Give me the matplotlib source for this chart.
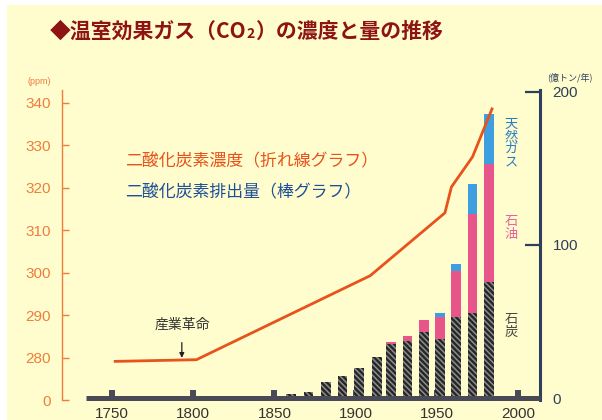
import matplotlib
matplotlib.use("Agg")
import matplotlib.pyplot as plt
from matplotlib.patches import Rectangle
from matplotlib.offsetbox import TextArea, HPacker, AnchoredOffsetbox

plt.rcParams['hatch.linewidth'] = 1.7

W, H = 602, 420
CJK = ['Noto Sans CJK JP', 'DejaVu Sans']
NUM = ['Liberation Sans', 'DejaVu Sans']

# CO2 concentration (ppm), line
ppm_years = [1752, 1802, 1909, 1955, 1959, 1972, 1984]
ppm_values = [279.1, 279.5, 299.3, 314.1, 320.2, 327.3, 338.6]

# CO2 emissions by fuel (億トン/年), stacked bars
emit_years = [1860, 1871, 1882, 1892, 1902, 1913, 1922, 1932, 1942, 1952, 1962, 1972, 1982]
coal = [2.6, 3.9, 10.4, 14.4, 19.6, 26.8, 35.2, 37.2, 43.1, 38.5, 52.9, 55.5, 75.7]
oil = [0, 0, 0, 0, 0, 0, 1.4, 3.3, 7.8, 14.4, 30.0, 64.6, 77.0]
gas = [0, 0, 0, 0, 0, 0, 0, 0, 0, 2.6, 4.6, 19.6, 32.7]

year_ticks = [1750, 1800, 1850, 1900, 1950, 2000]
ppm_ticks = [270, 280, 290, 300, 310, 320, 330, 340]
ppm_tick_labels = ['0', '280', '290', '300', '310', '320', '330', '340']
emit_ticks = [0, 100, 200]

BG = '#fffdcd'
ORANGE = '#e8521c'
ORANGE_AX = '#ee7d3e'
NAVY = '#2e3f5e'
PINK = '#e8558a'
BLUE = '#3d9fe0'
DARK = '#4a4a56'


def fx(x):
    return x / W


def fy(y):
    return 1 - y / H


fig = plt.figure(figsize=(W / 100, H / 100), dpi=100, facecolor='white')
fig.patches.append(Rectangle((fx(7), 0), 1 - fx(7), fy(5), transform=fig.transFigure,
                             facecolor=BG, edgecolor='none', zorder=-10))

# plot area in pixels
L, R, T, B = 62, 540, 90, 400
ax = fig.add_axes([fx(L), fy(B), (R - L) / W, (B - T) / H])
ax.set_facecolor('none')
ax2 = ax.twinx()
ax2.set_facecolor('none')

# x mapping: 1750 -> 112 px, 2000 -> 518 px
pxy = (518 - 112) / 250
ax.set_xlim(1750 + (L - 112) / pxy, 1750 + (R - 112) / pxy)

# emission axis (right): 0 at 398 px, 200 at 92 px
ppu = (398 - 92) / 200
ax.set_ylim(-(B - 398) / ppu, (398 - T) / ppu)
# concentration axis (left): 280 at 358 px, 340 at 103 px
ppp = (358 - 103) / 60
ax2.set_ylim(280 - (B - 358) / ppp, 280 + (358 - T) / ppp)

# stacked bars
bw = 6.0
ax.bar(emit_years, coal, width=bw, color='#8c8c8c', edgecolor='#262626', linewidth=0,
       hatch='\\\\\\\\\\\\', zorder=2)
base2 = [c for c in coal]
ax.bar(emit_years, oil, bottom=base2, width=bw, color=PINK, linewidth=0, zorder=2)
base3 = [c + o for c, o in zip(coal, oil)]
ax.bar(emit_years, gas, bottom=base3, width=bw, color=BLUE, linewidth=0, zorder=2)

# base line of the time axis
ax.plot([1734, ax.get_xlim()[1]], [-0.3, -0.3], color=DARK, lw=3.6,
        solid_capstyle='butt', zorder=3, clip_on=False)

# concentration line
ax2.plot(ppm_years, ppm_values, color=ORANGE, lw=2.0, zorder=5,
         solid_joinstyle='miter')

# spines
for s in ['top', 'left', 'bottom']:
    ax.spines[s].set_visible(False)
ax.spines['right'].set_color(NAVY)
ax.spines['right'].set_linewidth(2.2)
for s in ['top', 'right', 'bottom']:
    ax2.spines[s].set_visible(False)
ax2.spines['left'].set_visible(True)
ax2.spines['left'].set_color(ORANGE_AX)
ax2.spines['left'].set_linewidth(1.0)

# x ticks
ax.set_xticks(year_ticks)
ax.set_xticklabels([str(y) for y in year_ticks], fontfamily=NUM, fontsize=11, color='#333333')
ax.tick_params(axis='x', direction='in', length=7.5, width=4.3, color=DARK, pad=5)

# right axis
ax.yaxis.tick_right()
ax.set_yticks(emit_ticks)
ax.set_yticklabels([str(v) for v in emit_ticks], fontfamily=NUM, fontsize=11, color=NAVY)
ax.tick_params(axis='y', direction='in', length=11, width=1.6, color=NAVY, pad=9)

# left axis
ax2.yaxis.tick_left()
ax2.set_yticks(ppm_ticks)
ax2.set_yticklabels(ppm_tick_labels, fontfamily=NUM, fontsize=11, color=ORANGE_AX)
ax2.tick_params(axis='y', direction='in', length=5, width=1.0, color=ORANGE_AX, pad=8)

# unit labels
fig.text(fx(39), fy(81), '(ppm)', ha='center', va='center', fontsize=6.5,
         color=ORANGE_AX, fontfamily=NUM)
fig.text(fx(570), fy(77), '(億トン/年)', ha='center', va='center', fontsize=6.5,
         color=NAVY, fontfamily=CJK)

# legend texts
fig.text(fx(125), fy(161), '二酸化炭素濃度（折れ線グラフ）', ha='left', va='center',
         fontsize=12.2, color=ORANGE, fontfamily=CJK)
fig.text(fx(125), fy(192), '二酸化炭素排出量（棒グラフ）', ha='left', va='center',
         fontsize=12.2, color='#1f4f9a', fontfamily=CJK)

# fuel labels (vertical)
for label, color, yc in [('天然ガス', '#2a7cc8', 143), ('石油', '#e8609a', 228), ('石炭', '#444444', 326)]:
    fig.text(fx(511), fy(yc), '\n'.join(label), ha='center', va='center',
             fontsize=9.5, color=color, fontfamily=CJK, linespacing=0.95)

# industrial revolution marker
ax2.annotate('産業革命', xy=(1793, 279.6), xytext=(1793, 287.8),
             ha='center', va='center', fontsize=10, color='#333333', fontfamily=CJK,
             arrowprops=dict(arrowstyle='-|>', color='#222222', lw=0.9,
                             mutation_scale=7, shrinkA=6, shrinkB=1))

# title with small "2"
tp = dict(fontsize=15, fontweight='bold', color='#8e1414', fontfamily=CJK)
title = HPacker(children=[TextArea('◆温室効果ガス（CO', textprops=tp),
                          TextArea('2', textprops=dict(tp, fontsize=10)),
                          TextArea('）の濃度と量の推移', textprops=tp)],
                align='baseline', pad=0, sep=0)
box = AnchoredOffsetbox(loc='center left', child=title, frameon=False, pad=0, borderpad=0,
                        bbox_to_anchor=(fx(50), fy(31)), bbox_transform=fig.transFigure)
fig.add_artist(box)

fig.savefig('out.png', dpi=100, facecolor='white')
